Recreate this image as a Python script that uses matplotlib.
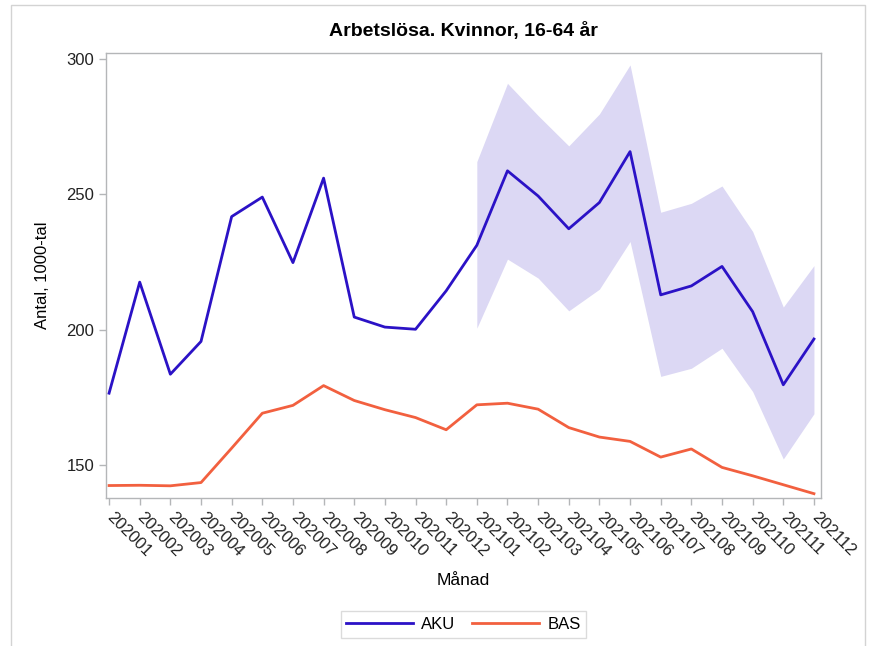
import matplotlib
matplotlib.use("Agg")
import matplotlib.pyplot as plt
from matplotlib.patches import Rectangle

plt.rcParams['font.family'] = ['Liberation Sans', 'DejaVu Sans']

months = ["202001", "202002", "202003", "202004", "202005", "202006", "202007", "202008",
          "202009", "202010", "202011", "202012", "202101", "202102", "202103", "202104",
          "202105", "202106", "202107", "202108", "202109", "202110", "202111", "202112"]

aku = [176.5, 217.5, 183.5, 195.6, 241.7, 248.9, 224.7, 255.9, 204.6, 200.9, 200.1, 214.3,
       231.1, 258.6, 249.3, 237.2, 246.9, 265.7, 212.8, 216.1, 223.3, 206.6, 179.6, 196.5]

bas = [142.4, 142.5, 142.3, 143.5, 156.2, 169.1, 172.0, 179.3, 173.8, 170.4, 167.5, 163.0,
       172.2, 172.8, 170.6, 163.8, 160.3, 158.7, 152.9, 155.9, 149.1, 146.0, 142.7, 139.4]

band_start = 12
band_upper = [262.0, 290.9, 279.0, 267.8, 279.6, 297.7, 243.3, 246.6, 253.0, 236.2, 208.3, 223.6]
band_lower = [200.5, 226.0, 219.0, 206.9, 214.9, 232.5, 182.7, 185.7, 193.1, 177.1, 152.2, 168.9]

blue = '#2B12C6'
orange = '#F2603F'
band_col = '#DCD8F4'
gray = '#B4B6B8'

fig = plt.figure(figsize=(8.71, 6.46), dpi=100)
ax = fig.add_axes([106/871, 1-498/646, (821-106)/871, (498-53)/646])

# outer frame
fig.patches.append(Rectangle((11/871, -0.01), (865-11)/871, 1-5/646+0.01,
                             transform=fig.transFigure, fill=False,
                             edgecolor='#D3D3D3', linewidth=1.0))

x = list(range(len(months)))
xb = x[band_start:]
ax.fill_between(xb, band_lower, band_upper, color=band_col, linewidth=0, zorder=1)
ax.plot(x, aku, color=blue, linewidth=2.0, label='AKU', zorder=3)
ax.plot(x, bas, color=orange, linewidth=2.0, label='BAS', zorder=2)

ax.set_xlim(-0.1, 23.23)
ax.set_ylim(137.8, 302.1)
ax.set_yticks([150, 200, 250, 300])
ax.set_xticks(x)
ax.set_xticklabels(months, rotation=-45, ha='left', va='center', rotation_mode='anchor')

for s in ax.spines.values():
    s.set_color(gray)
    s.set_linewidth(1.0)
ax.tick_params(axis='both', colors=gray, labelcolor='#222222', length=5, width=1,
               direction='out', labelsize=12)
ax.tick_params(axis='x', pad=7)

ax.set_title('Arbetslösa. Kvinnor, 16-64 år', fontsize=14, fontweight='bold', pad=12)
ax.set_ylabel('Antal, 1000-tal', fontsize=12, labelpad=12)
ax.set_xlabel('Månad', fontsize=12.5, labelpad=10)

leg = ax.legend(loc='upper center', bbox_to_anchor=(0.5, -0.235), ncol=2, frameon=True,
                fontsize=12, handlelength=4.0, columnspacing=1.0, borderpad=0.35,
                handletextpad=0.5, fancybox=False, edgecolor='#D3D3D3')
leg.get_frame().set_linewidth(1.0)

fig.savefig('out.png', dpi=100)
